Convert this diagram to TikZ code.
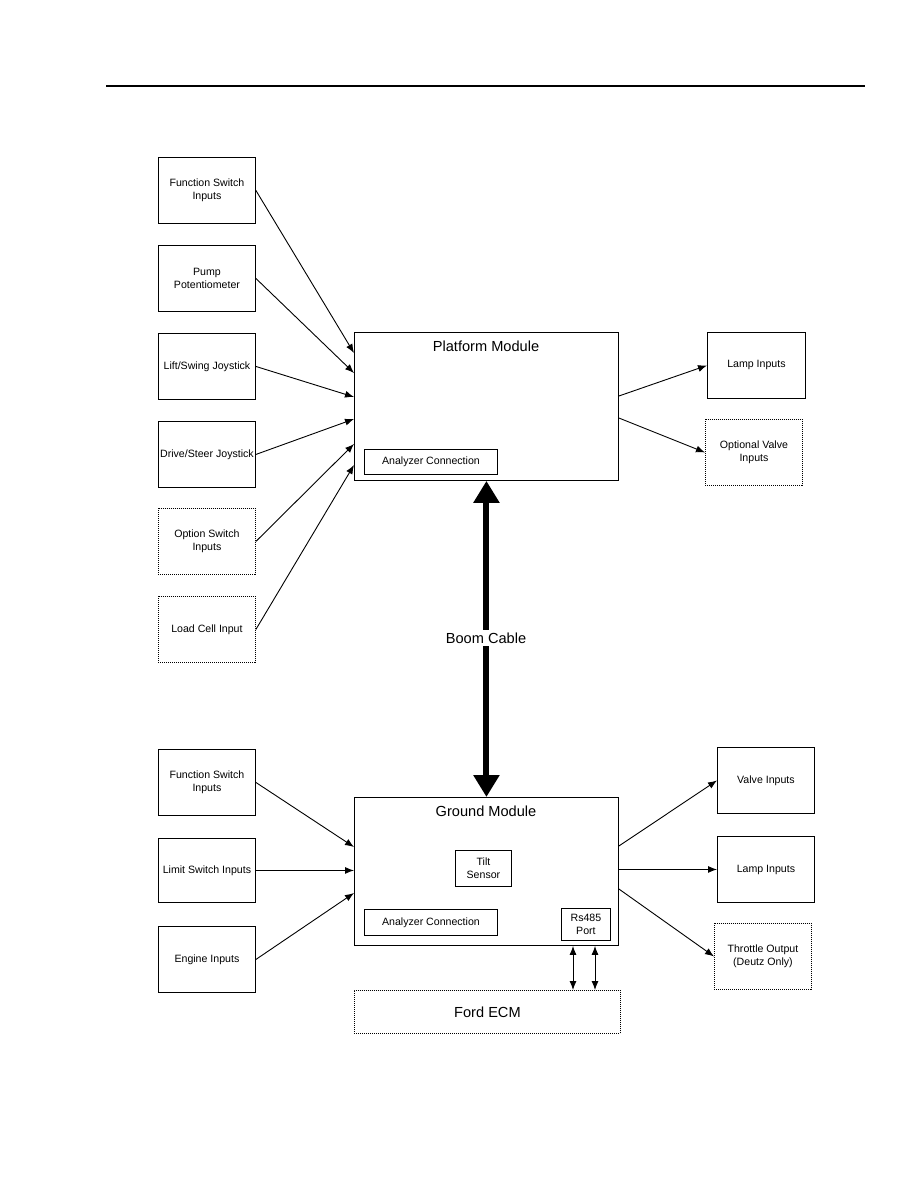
\documentclass[tikz,border=0pt]{standalone}
\usepackage{fontspec}
\setmainfont{Liberation Sans}
\usetikzlibrary{arrows.meta}
\tikzset{
  box/.style={draw, line width=0.9pt, inner sep=0pt, align=center,
    minimum width=97pt, minimum height=66pt, anchor=north west,
    font=\fontsize{10.6}{13.3}\selectfont},
  dotbox/.style={box, dash pattern=on 1pt off 1pt},
  module/.style={draw, line width=0.9pt, minimum width=264pt, minimum height=148pt, anchor=north west, inner sep=0pt},
  inner/.style={draw, line width=0.9pt, inner sep=0pt, align=center, anchor=north west,
    font=\fontsize{10.6}{13.3}\selectfont},
  title/.style={font=\fontsize{14.6}{17}\selectfont, inner sep=0pt},
  conn/.style={line width=0.9pt, -{Latex[length=9pt,width=7pt]}},
  dconn/.style={line width=0.9pt, {Latex[length=9pt,width=7pt]}-{Latex[length=9pt,width=7pt]}},
  boom/.style={line width=6pt, {Triangle[length=22pt,width=25pt]}-{Triangle[length=22pt,width=25pt]}}
}
\begin{document}
\begin{tikzpicture}[x=1pt,y=-1pt]
\path[use as bounding box] (0,0) rectangle (918,1188);
\draw[line width=1.3pt] (106,86) -- (865,86);

% upper left inputs
\node[box] (fs1) at (158,157) {Function Switch\\Inputs};
\node[box] (pp) at (158,245) {Pump\\Potentiometer};
\node[box] (ls) at (158,333) {Lift/Swing Joystick};
\node[box] (ds) at (158,421) {Drive/Steer Joystick};
\node[dotbox] (os) at (158,508) {Option Switch\\Inputs};
\node[dotbox] (lc) at (158,596) {Load Cell Input};

% platform module
\node[module] (pm) at (354,332) {};
\node[title] (pmt) at (486,346) {Platform Module};
\node[inner, minimum width=133pt, minimum height=25pt] (pac) at (364,449) {Analyzer Connection};

% upper right outputs
\node[box, minimum width=98pt] (lamp1) at (707,332) {Lamp Inputs};
\node[dotbox] (ov) at (705,419) {Optional Valve\\Inputs};

% ground module
\node[module] (gm) at (354,797) {};
\node[title] (gmt) at (486,811) {Ground Module};
\node[inner, minimum width=56pt, minimum height=36pt] (tilt) at (455,850) {Tilt\\Sensor};
\node[inner, minimum width=133pt, minimum height=26pt] (gac) at (364,909) {Analyzer Connection};
\node[inner, minimum width=49pt, minimum height=32pt] (rs) at (561,908) {Rs485\\Port};
\node[dotbox, minimum width=266pt, minimum height=43pt, font=\fontsize{14.6}{17}\selectfont] (ecm) at (354,990) {Ford ECM};

% lower left inputs
\node[box] (fs2) at (158,749) {Function Switch\\Inputs};
\node[box, minimum height=64pt] (lim) at (158,838) {Limit Switch Inputs};
\node[box] (eng) at (158,926) {Engine Inputs};

% lower right outputs
\node[box] (valve) at (717,747) {Valve Inputs};
\node[box] (lamp2) at (717,836) {Lamp Inputs};
\node[dotbox] (thr) at (714,923) {Throttle Output\\(Deutz Only)};

% connectors upper
\draw[conn] (fs1.east) -- ([yshift=-21pt]pm.north west);
\draw[conn] (pp.east) -- ([yshift=-41pt]pm.north west);
\draw[conn] (ls.east) -- ([yshift=-65pt]pm.north west);
\draw[conn] (ds.east) -- ([yshift=-87pt]pm.north west);
\draw[conn] (os.east) -- ([yshift=-112pt]pm.north west);
\draw[conn] (lc.east) -- ([yshift=-133pt]pm.north west);
\draw[conn] ([yshift=-64pt]pm.north east) -- (lamp1.west);
\draw[conn] ([yshift=-86pt]pm.north east) -- (ov.west);

% boom cable
\draw[boom] (pm.south) -- (gm.north);
\node[title, fill=white, inner sep=3pt] (bc) at (486,638) {Boom Cable};

% connectors lower
\draw[conn] (fs2.east) -- ([yshift=-50pt]gm.north west);
\draw[conn] (lim.east) -- (lim.east -| gm.west);
\draw[conn] (eng.east) -- ([yshift=-96pt]gm.north west);
\draw[conn] ([yshift=-49pt]gm.north east) -- (valve.west);
\draw[conn] (lamp2.west -| gm.east) -- (lamp2.west);
\draw[conn] ([yshift=-92pt]gm.north east) -- (thr.west);

% rs485 links
\draw[dconn] ([xshift=219pt]gm.south west) -- ([xshift=219pt]ecm.north west);
\draw[dconn] ([xshift=241pt]gm.south west) -- ([xshift=241pt]ecm.north west);
\end{tikzpicture}
\end{document}
